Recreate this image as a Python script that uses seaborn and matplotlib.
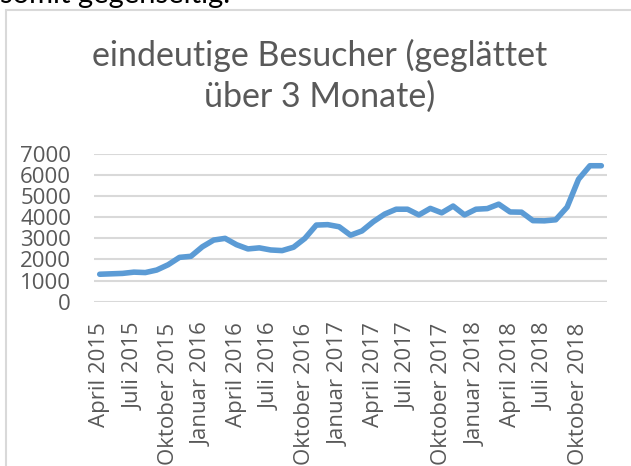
import pandas as pd
import matplotlib.pyplot as plt
import matplotlib.patches as mpatches
import seaborn as sns

# Monthly values, April 2015 .. Dezember 2018
months = [
    "April 2015", "Mai 2015", "Juni 2015", "Juli 2015", "August 2015", "September 2015",
    "Oktober 2015", "November 2015", "Dezember 2015", "Januar 2016", "Februar 2016", "März 2016",
    "April 2016", "Mai 2016", "Juni 2016", "Juli 2016", "August 2016", "September 2016",
    "Oktober 2016", "November 2016", "Dezember 2016", "Januar 2017", "Februar 2017", "März 2017",
    "April 2017", "Mai 2017", "Juni 2017", "Juli 2017", "August 2017", "September 2017",
    "Oktober 2017", "November 2017", "Dezember 2017", "Januar 2018", "Februar 2018", "März 2018",
    "April 2018", "Mai 2018", "Juni 2018", "Juli 2018", "August 2018", "September 2018",
    "Oktober 2018", "November 2018", "Dezember 2018",
]
visitors = [
    1300, 1320, 1340, 1400, 1380, 1500, 1750, 2100, 2150, 2600, 2920, 3000,
    2700, 2500, 2550, 2450, 2420, 2580, 3000, 3630, 3650, 3550, 3150, 3350,
    3790, 4150, 4380, 4380, 4110, 4420, 4210, 4530, 4110, 4380, 4410, 4620,
    4250, 4240, 3840, 3830, 3880, 4480, 5800, 6440, 6440,
]
title_text = "eindeutige Besucher (geglättet\nüber 3 Monate)"
y_ticks = [0, 1000, 2000, 3000, 4000, 5000, 6000, 7000]

df = pd.DataFrame({"idx": range(len(months)), "monat": months, "besucher": visitors})

sns.set_style("white")
plt.rcParams["font.family"] = ["Open Sans", "DejaVu Sans"]

grey = "#595959"
fig = plt.figure(figsize=(6.31, 4.66), dpi=100)
ax = fig.add_axes([0.149, 0.3526, 0.813, 0.3171])

sns.lineplot(data=df, x="idx", y="besucher", ax=ax, color="#5B9BD5",
             linewidth=4, solid_capstyle="round", solid_joinstyle="round")

ax.set_xlim(-0.5, len(months) - 0.5)
ax.set_ylim(0, 7000)
ax.set_yticks(y_ticks)
ax.set_yticklabels([str(v) for v in y_ticks], fontsize=16, color=grey)
tick_idx = list(range(0, len(months), 3))
ax.set_xticks(tick_idx)
ax.set_xticklabels([months[i] for i in tick_idx], rotation=90, fontsize=16, color=grey)
ax.tick_params(axis="both", length=0)
ax.tick_params(axis="y", pad=16.5)
ax.tick_params(axis="x", pad=15)
ax.yaxis.grid(True, color="#d9d9d9", linewidth=1.5)
ax.set_axisbelow(True)
for s in ax.spines.values():
    s.set_visible(False)
ax.set_xlabel("")
ax.set_ylabel("")

# chart frame and title
fig.patches.append(mpatches.Rectangle((5.5 / 631, -0.1), 1.2, 1 - 9.5 / 466 + 0.1,
                                      transform=fig.transFigure, fill=False,
                                      edgecolor="#d9d9d9", linewidth=1.5))
fig.text(320 / 631, 1 - 76 / 466, title_text, ha="center", va="center",
         fontsize=24.5, color=grey, linespacing=1.3, family=["Lato", "DejaVu Sans"])
# cut-off document text above the chart
fig.text(0, 1 - 3.5 / 466, "somit gegenseitig.", ha="left", va="baseline",
         fontsize=21, color="black", family=["Lato", "DejaVu Sans"])

fig.savefig("out.png", dpi=100)
